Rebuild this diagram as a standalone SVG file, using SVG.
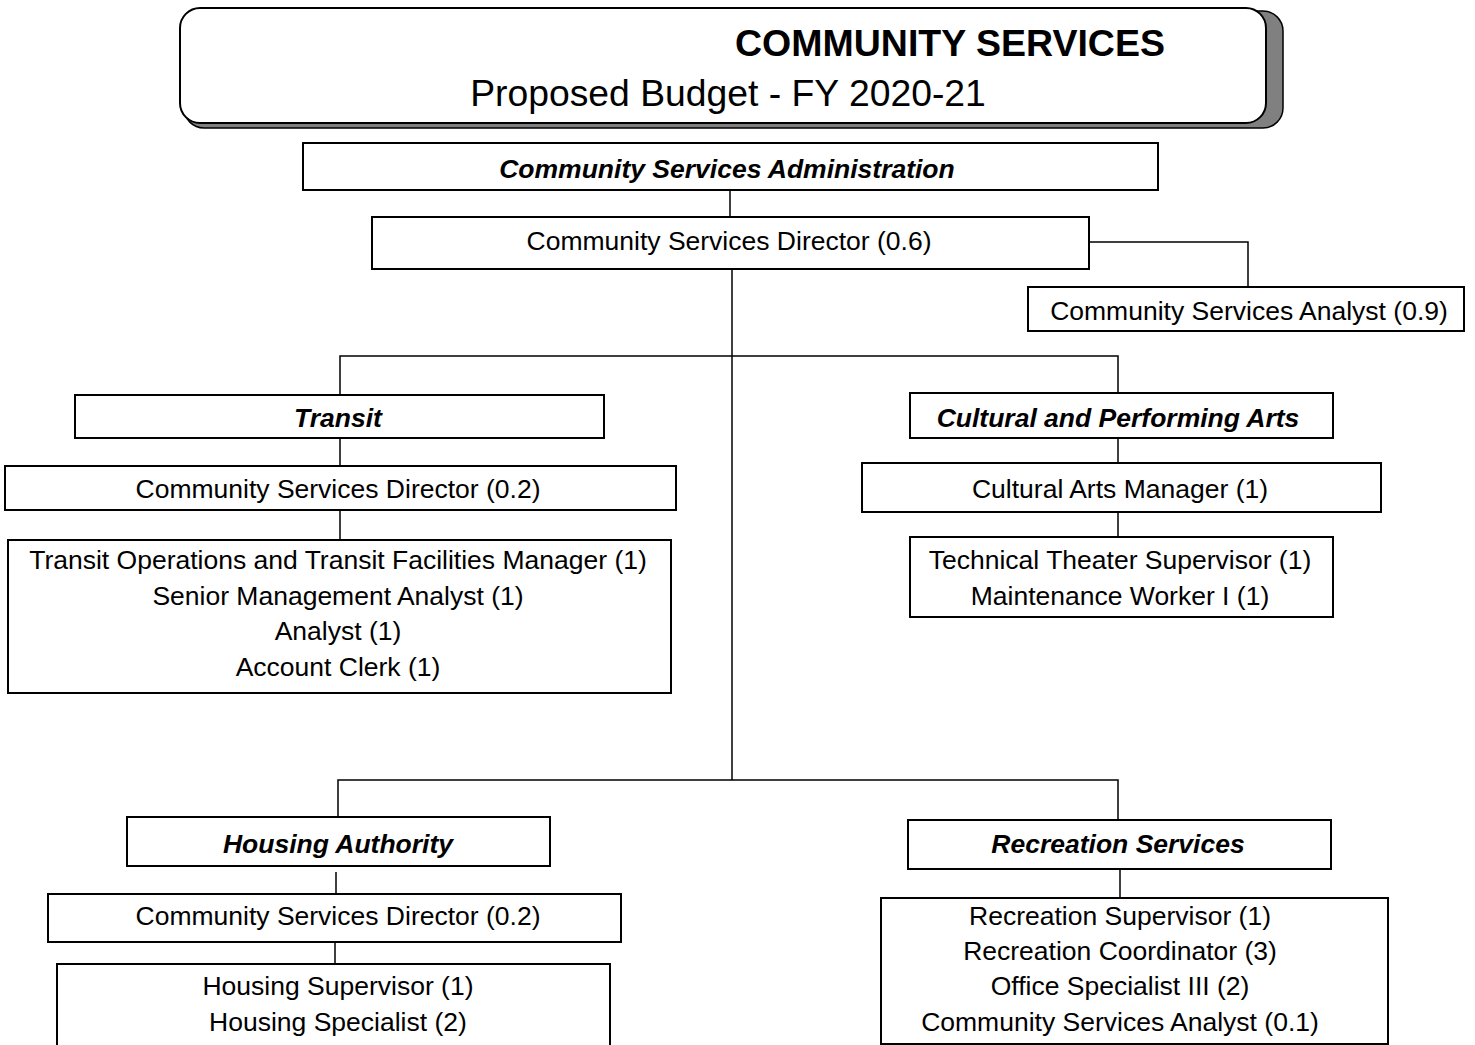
<svg xmlns="http://www.w3.org/2000/svg" width="1475" height="1045" viewBox="0 0 1475 1045">
<style>
.box{fill:#fff;stroke:#000;stroke-width:2}
.t{font-family:"Liberation Sans",Arial,sans-serif;font-size:26.5px;fill:#000;text-anchor:middle}
.h{font-weight:bold;font-style:italic}
.c{stroke:#000;stroke-width:1.5;fill:none}
</style>
<rect width="1475" height="1045" fill="#fff"/>
<g id="title">
<rect x="184" y="11" width="1099" height="117" rx="20" fill="#808080" stroke="#000" stroke-width="1.5"/>
<rect x="180" y="8" width="1086" height="115" rx="20" fill="#fff" stroke="#000" stroke-width="2"/>
<text class="t" x="950" y="56" style="font-size:37.5px;font-weight:bold">COMMUNITY SERVICES</text>
<text class="t" x="728" y="106" style="font-size:37.3px">Proposed Budget - FY 2020-21</text>
</g>
<g id="connectors">
<path class="c" d="M730 190V217"/>
<path class="c" d="M1089 242H1248V287"/>
<path class="c" d="M732 269V780"/>
<path class="c" d="M340 395V356H1118V393"/>
<path class="c" d="M340 438V466M340 510V540"/>
<path class="c" d="M1118 438V463M1118 512V537"/>
<path class="c" d="M338 817V780H1118V820"/>
<path class="c" d="M336 872V893M335 942V965"/>
<path class="c" d="M1120 869V898"/>
</g>
<g id="admin">
<rect class="box" x="303" y="143" width="855" height="47"/>
<text class="t h" x="727" y="178">Community Services Administration</text>
</g>
<g id="director">
<rect class="box" x="372" y="217" width="717" height="52"/>
<text class="t" x="729" y="250">Community Services Director (0.6)</text>
</g>
<g id="analyst">
<rect class="box" x="1028" y="287" width="436" height="44"/>
<text class="t" x="1249" y="320">Community Services Analyst (0.9)</text>
</g>
<g id="transit">
<rect class="box" x="75" y="395" width="529" height="43"/>
<text class="t h" x="338" y="427">Transit</text>
</g>
<g id="transit-director">
<rect class="box" x="5" y="466" width="671" height="44"/>
<text class="t" x="338" y="498">Community Services Director (0.2)</text>
</g>
<g id="transit-staff">
<rect class="box" x="8" y="540" width="663" height="153"/>
<text class="t" x="338" y="569">Transit Operations and Transit Facilities Manager (1)</text>
<text class="t" x="338" y="605">Senior Management Analyst (1)</text>
<text class="t" x="338" y="640">Analyst (1)</text>
<text class="t" x="338" y="676">Account Clerk (1)</text>
</g>
<g id="cultural">
<rect class="box" x="910" y="393" width="423" height="45"/>
<text class="t h" x="1118" y="427">Cultural and Performing Arts</text>
</g>
<g id="cultural-manager">
<rect class="box" x="862" y="463" width="519" height="49"/>
<text class="t" x="1120" y="498">Cultural Arts Manager (1)</text>
</g>
<g id="cultural-staff">
<rect class="box" x="910" y="537" width="423" height="80"/>
<text class="t" x="1120" y="569">Technical Theater Supervisor (1)</text>
<text class="t" x="1120" y="605">Maintenance Worker I (1)</text>
</g>
<g id="housing">
<rect class="box" x="127" y="817" width="423" height="49"/>
<text class="t h" x="338" y="853">Housing Authority</text>
</g>
<g id="housing-director">
<rect class="box" x="48" y="894" width="573" height="48"/>
<text class="t" x="338" y="925">Community Services Director (0.2)</text>
</g>
<g id="housing-staff">
<rect class="box" x="57" y="964" width="553" height="90"/>
<text class="t" x="338" y="995">Housing Supervisor (1)</text>
<text class="t" x="338" y="1031">Housing Specialist (2)</text>
</g>
<g id="recreation">
<rect class="box" x="908" y="820" width="423" height="49"/>
<text class="t h" x="1118" y="853">Recreation Services</text>
</g>
<g id="recreation-staff">
<rect class="box" x="881" y="898" width="507" height="146"/>
<text class="t" x="1120" y="925">Recreation Supervisor (1)</text>
<text class="t" x="1120" y="960">Recreation Coordinator (3)</text>
<text class="t" x="1120" y="995">Office Specialist III (2)</text>
<text class="t" x="1120" y="1031">Community Services Analyst (0.1)</text>
</g>
</svg>
